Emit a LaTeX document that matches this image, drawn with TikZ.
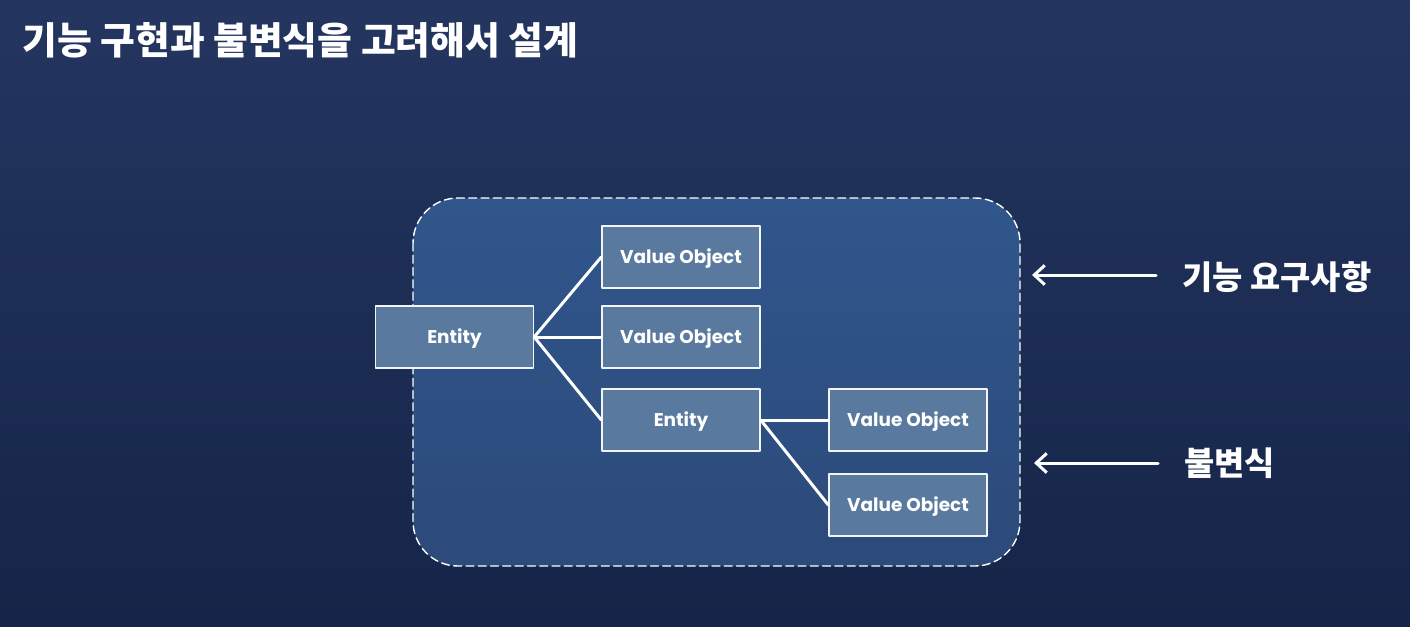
\documentclass[tikz,border=0pt]{standalone}
\usepackage{fontspec}
\newfontfamily\krfont{Noto Sans CJK KR}
\newfontfamily\boxfont{Poppins}
\usetikzlibrary{arrows.meta, positioning, calc}

\definecolor{bgtop}{RGB}{36,53,96}
\definecolor{bgbot}{RGB}{21,37,72}
\definecolor{grouptop}{RGB}{48,86,140}
\definecolor{groupbot}{RGB}{44,74,122}
\definecolor{boxfill}{RGB}{89,121,159}

\tikzset{
  objbox/.style={draw=white!92!boxfill, line width=0.8pt, fill=boxfill,
    minimum width=3.16cm, minimum height=1.24cm, inner sep=0pt,
    text height=0.9em, text depth=0.2em,
    text=white, font=\boxfont\bfseries\fontsize{10.5}{12}\selectfont},
  link/.style={draw=white, line width=1.7pt},
  hint/.style={draw=white, line width=1.7pt, -{Straight Barb[length=6pt,width=11pt,line width=1.7pt]}},
  label/.style={text=white, font=\krfont\bfseries\fontsize{18.7}{22}\selectfont, anchor=west, inner sep=0pt},
  headline/.style={label, font=\krfont\bfseries\fontsize{21.5}{25}\selectfont}
}

\begin{document}
\begin{tikzpicture}[x=0.02cm, y=-0.02cm, line join=round, line cap=round]
      % background
      \shade[top color=bgtop, bottom color=bgbot] (0,0) rectangle (1410,626);
      \useasboundingbox (0,0) rectangle (1410,626);
      \node[headline] (title) at (22,40) {기능 구현과 불변식을 고려해서 설계};

      % group of the aggregate
      \shade[top color=grouptop, bottom color=groupbot, rounded corners=0.9cm]
        (413,198) rectangle (1020,566);
      \draw[white, line width=0.8pt, dash pattern=on 4.5pt off 2.5pt, rounded corners=0.9cm]
        (413,198) rectangle (1020,566);

      % objects
      \node[objbox] (root) at (454.5,337) {Entity};
      \node[objbox] (vo1) at (681,257) {Value Object};
      \node[objbox] (vo2) at (681,337) {Value Object};
      \node[objbox] (sub) at (681,420) {Entity};
      \node[objbox] (vo3) at (908,420) {Value Object};
      \node[objbox] (vo4) at (908,505) {Value Object};

      \draw[link] (root.east) -- (vo1.west);
      \draw[link] (root.east) -- (vo2.west);
      \draw[link] (root.east) -- (sub.west);
      \draw[link] (sub.east) -- (vo3.west);
      \draw[link] (sub.east) -- (vo4.west);

      % side notes
      \node[label] (req) at (1182,277) {기능 요구사항};
      \node[label] (inv) at (1184,463) {불변식};
      \coordinate (reqtip) at (1032,275);
      \coordinate (invtip) at (1034,463);
      \draw[hint] ($(req.west)+(-26,-2)$) -- (reqtip);
      \draw[hint] ($(inv.west)+(-26,0)$) -- (invtip);
    \end{tikzpicture}
\end{document}
